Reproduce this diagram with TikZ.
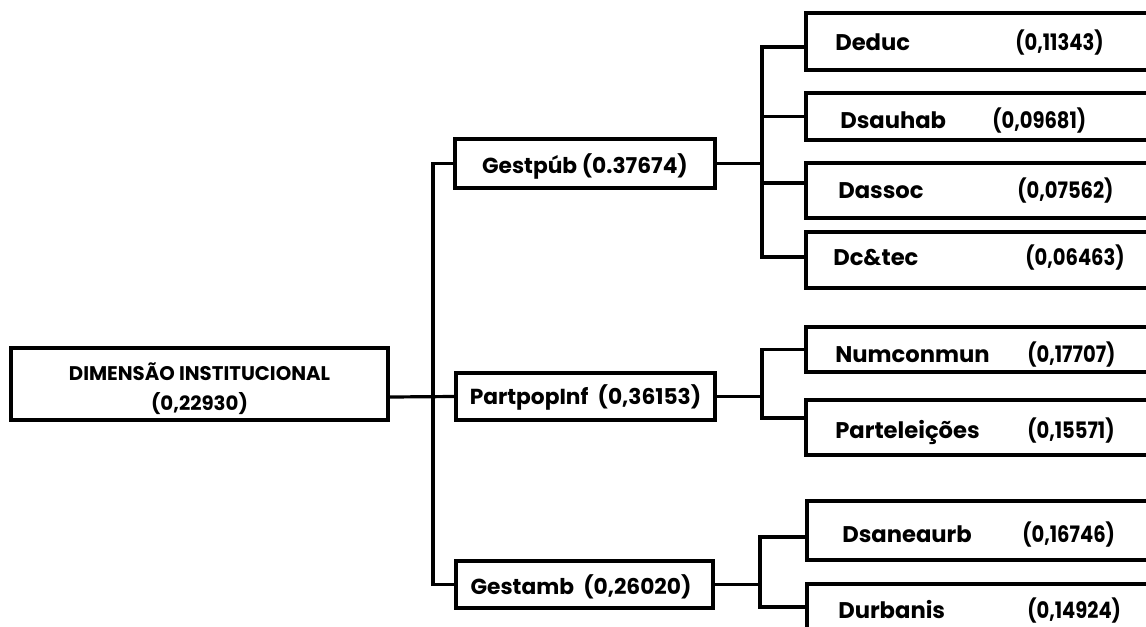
\documentclass[tikz,border=0pt]{standalone}
\usepackage{fontspec}
\setmainfont{Poppins}
\newfontfamily\numfont[FakeStretch=0.86]{Poppins}
\usetikzlibrary{fit,calc}
\begin{document}
\begin{tikzpicture}[x=0.75pt,y=-0.75pt,
  box/.style={draw, line width=2.6pt, inner sep=0pt, fit={#1}},
  link/.style={line width=2.4pt, line cap=rect},
  rtxt/.style={font=\bfseries\fontsize{17}{20}\selectfont, inner sep=0pt, anchor=base west},
  rnum/.style={font=\numfont\bfseries\fontsize{17}{20}\selectfont, inner sep=0pt, anchor=base west},
  mtxt/.style={font=\bfseries\fontsize{16.3}{19}\selectfont, inner sep=0pt, anchor=base},
  ttxt/.style={font=\bfseries\fontsize{14.8}{17}\selectfont, inner sep=0pt, anchor=base}]
\clip (0,0) rectangle (1146,626);
\fill[white] (0,0) rectangle (1146,626);
% main box
\node[box={(11,348)(388,420)}] (main) {};
\node[ttxt] (main1) at (199.5,380) {DIMENSÃO INSTITUCIONAL};
\node[ttxt] (main2) at (199.5,410) {(0,22930)};
% middle boxes
\node[box={(455,139)(715,188)}] (gp) {};
\node[mtxt] (gpt) at (585,173) {Gestpúb (0.37674)};
\node[box={(456,373)(715,420)}] (pp) {};
\node[mtxt] (ppt) at (585.5,404) {PartpopInf\ \ (0,36153)};
\node[box={(456,561)(713,608)}] (ga) {};
\node[mtxt] (gat) at (581,594) {Gestamb\ \ (0,26020)};
% right boxes
\node[box={(806,13)(1170,70)}] (deduc) {};
\node[rtxt] (deducn) at (835,50) {Deduc};
\node[rnum] (deducv) at (1015,50) {(0,11343)};
\node[box={(806,93)(1170,140)}] (dsau) {};
\node[rtxt] (dsaun) at (840,128) {Dsauhab};
\node[rnum] (dsauv) at (992,128) {(0,09681)};
\node[box={(806,163)(1170,218)}] (dass) {};
\node[rtxt] (dassn) at (838,198) {Dassoc};
\node[rnum] (dassv) at (1017,198) {(0,07562)};
\node[box={(806,232)(1170,288)}] (dct) {};
\node[rtxt] (dctn) at (833,265) {Dc\&tec};
\node[rnum] (dctv) at (1025,265) {(0,06463)};
\node[box={(806,327)(1170,372)}] (num) {};
\node[rtxt] (numn) at (835,362) {Numconmun};
\node[rnum] (numv) at (1027,362) {(0,17707)};
\node[box={(806,400)(1170,455)}] (part) {};
\node[rtxt] (partn) at (835,438) {Parteleições};
\node[rnum] (partv) at (1027,438) {(0,15571)};
\node[box={(807,501)(1170,560)}] (dsan) {};
\node[rtxt] (dsann) at (842,542) {Dsaneaurb};
\node[rnum] (dsanv) at (1022,542) {(0,16746)};
\node[box={(807,584)(1170,641)}] (durb) {};
\node[rtxt] (durbn) at (838,618) {Durbanis};
\node[rnum] (durbv) at (1027,618) {(0,14924)};
% junction columns
\coordinate (t) at (433,0);
\coordinate (r) at (762,0);
\coordinate (s) at (760,0);
% connectors
\draw[link] ([yshift=-9.75pt]main.east) -- (pp.west);
\draw[link] (gp.west) -- (gp.west -| t) -- (ga.west -| t) -- (ga.west);
\draw[link] (gp.east) -- (gp.east -| r);
\draw[link] ([yshift=-4.1pt]deduc.west) -- ([yshift=-4.1pt]deduc.west -| r) -- ([yshift=2.25pt]dct.west -| r) -- ([yshift=2.25pt]dct.west);
\draw[link] (dsau.west) -- (dsau.west -| r);
\draw[link] ([yshift=5.6pt]dass.west) -- ([yshift=5.6pt]dass.west -| r);
\draw[link] (pp.east) -- (pp.east -| r);
\draw[link] (num.west) -- (num.west -| r) -- ([yshift=7.1pt]part.west -| r) -- ([yshift=7.1pt]part.west);
\draw[link] (ga.east) -- (ga.east -| s);
\draw[link] ([yshift=-4.9pt]dsan.west) -- ([yshift=-4.9pt]dsan.west -| s) -- ([yshift=4.1pt]durb.west -| s) -- ([yshift=4.1pt]durb.west);
\end{tikzpicture}
\end{document}
